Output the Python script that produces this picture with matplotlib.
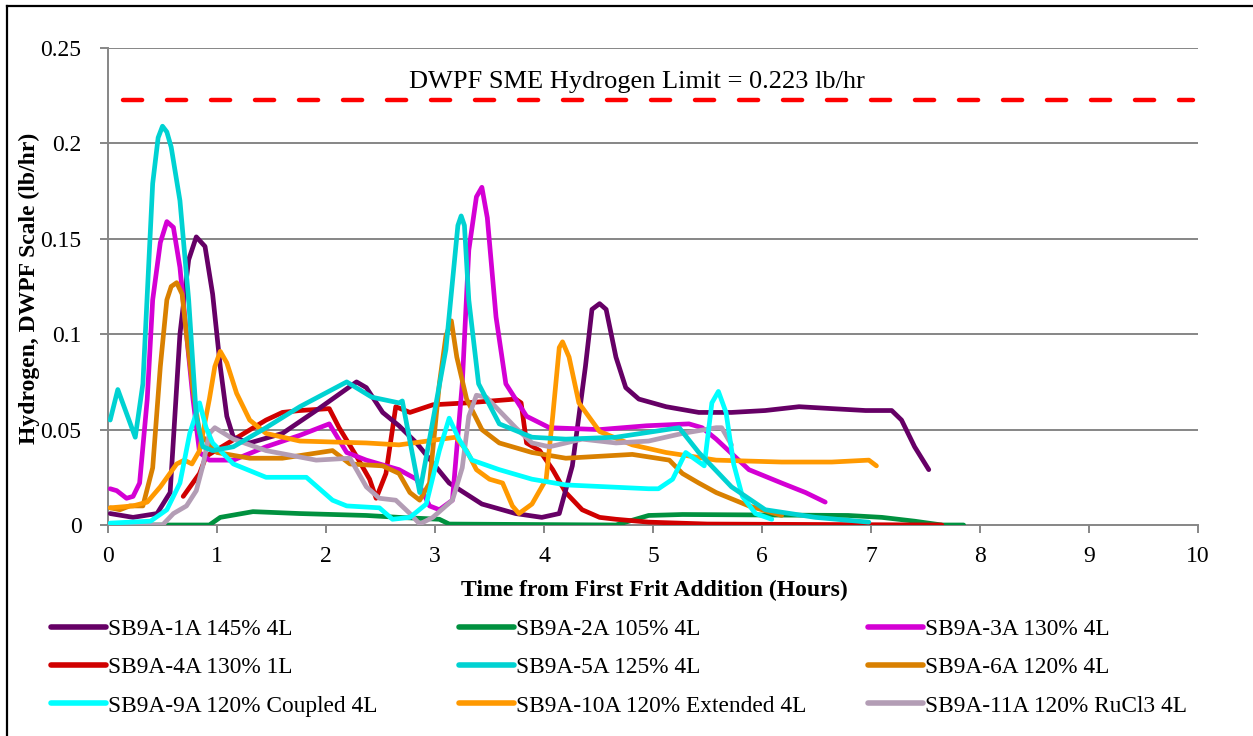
import matplotlib
matplotlib.use('Agg')
import matplotlib.pyplot as plt
from matplotlib.lines import Line2D

# ---- data (time in hours, hydrogen in lb/hr) ----
t_1a = [0.02, 0.23, 0.45, 0.57, 0.66, 0.74, 0.81, 0.89, 0.96, 1.03, 1.09, 1.15, 1.30, 1.60, 1.91, 2.28, 2.37, 2.52,
        2.67, 2.83, 3.13, 3.43, 3.74, 3.98, 4.14, 4.26, 4.38, 4.44, 4.51, 4.57, 4.66, 4.75, 4.87, 5.12, 5.42, 5.72,
        6.03, 6.34, 6.64, 6.95, 7.19, 7.28, 7.40, 7.53]
h_1a = [0.006, 0.004, 0.006, 0.017, 0.100, 0.139, 0.151, 0.146, 0.121, 0.083, 0.057, 0.046, 0.043, 0.048, 0.060,
        0.075, 0.072, 0.059, 0.052, 0.043, 0.022, 0.011, 0.006, 0.004, 0.006, 0.031, 0.083, 0.113, 0.116, 0.113,
        0.088, 0.072, 0.066, 0.062, 0.059, 0.059, 0.060, 0.062, 0.061, 0.060, 0.060, 0.055, 0.041, 0.029]

t_2a = [0.0, 0.93, 1.03, 1.33, 1.76, 2.37, 2.67, 3.04, 3.13, 4.66, 4.96, 5.27, 6.79, 7.10, 7.40, 7.65, 7.85]
h_2a = [0.0, 0.0, 0.004, 0.007, 0.006, 0.005, 0.004, 0.003, 0.0005, 0.0, 0.005, 0.0055, 0.005, 0.004, 0.002, 0.0, 0.0]

t_3a = [0.02, 0.08, 0.17, 0.23, 0.29, 0.36, 0.41, 0.48, 0.54, 0.60, 0.66, 0.72, 0.78, 0.84, 0.93, 1.15, 1.45, 1.76,
        2.03, 2.19, 2.37, 2.67, 2.83, 2.95, 3.04, 3.16, 3.25, 3.31, 3.38, 3.43, 3.48, 3.56, 3.65, 3.84, 4.05, 4.51,
        4.94, 5.33, 5.45, 5.58, 5.88, 6.18, 6.40, 6.58]
h_3a = [0.019, 0.018, 0.014, 0.015, 0.022, 0.066, 0.118, 0.148, 0.159, 0.156, 0.135, 0.100, 0.066, 0.038, 0.034,
        0.034, 0.041, 0.047, 0.053, 0.038, 0.034, 0.029, 0.024, 0.010, 0.008, 0.013, 0.074, 0.144, 0.172, 0.177,
        0.161, 0.109, 0.074, 0.057, 0.051, 0.050, 0.052, 0.053, 0.051, 0.045, 0.029, 0.022, 0.017, 0.012]

t_4a = [0.69, 0.84, 0.90, 1.45, 1.60, 1.76, 2.03, 2.12, 2.28, 2.40, 2.46, 2.55, 2.64, 2.77, 2.98, 3.29, 3.74, 3.79,
        3.84, 3.96, 4.08, 4.20, 4.35, 4.51, 4.66, 4.96, 5.50, 7.65]
h_4a = [0.015, 0.027, 0.036, 0.055, 0.059, 0.060, 0.061, 0.051, 0.036, 0.024, 0.014, 0.027, 0.062, 0.059, 0.063,
        0.064, 0.066, 0.064, 0.043, 0.039, 0.029, 0.017, 0.008, 0.004, 0.003, 0.0015, 0.0005, 0.0]

t_5a = [0.02, 0.09, 0.25, 0.32, 0.41, 0.46, 0.50, 0.54, 0.58, 0.66, 0.74, 0.81, 0.87, 0.96, 1.15, 1.45, 1.76, 2.19,
        2.42, 2.67, 2.70, 2.86, 3.10, 3.21, 3.24, 3.27, 3.31, 3.40, 3.59, 3.89, 4.20, 4.66, 5.24, 5.42, 5.72, 6.03,
        6.49, 6.98]
h_5a = [0.055, 0.071, 0.046, 0.074, 0.179, 0.203, 0.209, 0.206, 0.198, 0.170, 0.118, 0.057, 0.041, 0.039, 0.041,
        0.051, 0.062, 0.075, 0.067, 0.064, 0.065, 0.017, 0.092, 0.157, 0.162, 0.157, 0.118, 0.074, 0.053, 0.046,
        0.045, 0.046, 0.051, 0.038, 0.020, 0.008, 0.004, 0.0015]

t_6a = [0.02, 0.11, 0.20, 0.32, 0.41, 0.48, 0.54, 0.58, 0.63, 0.68, 0.72, 0.78, 0.84, 1.00, 1.30, 1.60, 2.06, 2.22,
        2.52, 2.67, 2.77, 2.86, 2.95, 3.04, 3.10, 3.15, 3.20, 3.29, 3.43, 3.59, 3.89, 4.20, 4.81, 5.15, 5.27, 5.42,
        5.58, 5.88, 6.18]
h_6a = [0.009, 0.008, 0.010, 0.010, 0.030, 0.083, 0.118, 0.125, 0.127, 0.121, 0.100, 0.071, 0.048, 0.038, 0.035,
        0.035, 0.039, 0.032, 0.031, 0.027, 0.017, 0.013, 0.022, 0.074, 0.099, 0.107, 0.088, 0.066, 0.050, 0.043,
        0.038, 0.035, 0.037, 0.034, 0.027, 0.022, 0.017, 0.010, 0.005]

t_9a = [0.02, 0.39, 0.54, 0.66, 0.75, 0.84, 0.90, 0.96, 1.15, 1.45, 1.82, 2.06, 2.19, 2.49, 2.61, 2.77, 2.92, 3.04,
        3.13, 3.22, 3.34, 3.59, 3.89, 4.20, 4.96, 5.05, 5.18, 5.30, 5.47, 5.54, 5.60, 5.67, 5.74, 5.82, 5.94, 6.09]
h_9a = [0.001, 0.002, 0.008, 0.022, 0.048, 0.064, 0.051, 0.043, 0.032, 0.025, 0.025, 0.013, 0.010, 0.009, 0.003,
        0.004, 0.011, 0.039, 0.056, 0.045, 0.034, 0.029, 0.024, 0.021, 0.019, 0.019, 0.024, 0.038, 0.031, 0.064,
        0.070, 0.059, 0.032, 0.015, 0.006, 0.003]

t_10a = [0.02, 0.23, 0.36, 0.48, 0.63, 0.70, 0.77, 0.84, 0.93, 0.98, 1.03, 1.09, 1.18, 1.30, 1.45, 1.76, 2.37, 2.67,
         3.19, 3.29, 3.38, 3.50, 3.62, 3.71, 3.77, 3.89, 4.02, 4.08, 4.14, 4.17, 4.23, 4.32, 4.51, 4.81, 5.12, 5.58,
         6.18, 6.64, 6.98, 7.05]
h_10a = [0.009, 0.010, 0.012, 0.020, 0.032, 0.034, 0.032, 0.039, 0.066, 0.083, 0.091, 0.085, 0.069, 0.055, 0.048,
         0.044, 0.043, 0.042, 0.046, 0.039, 0.029, 0.024, 0.022, 0.010, 0.006, 0.011, 0.024, 0.057, 0.093, 0.096,
         0.088, 0.064, 0.049, 0.042, 0.038, 0.034, 0.033, 0.033, 0.034, 0.031]

t_11a = [0.0, 0.50, 0.60, 0.72, 0.81, 0.87, 0.93, 0.98, 1.15, 1.45, 1.91, 2.22, 2.37, 2.49, 2.64, 2.77, 2.86, 2.98,
         3.16, 3.25, 3.31, 3.38, 3.47, 3.74, 3.89, 4.05, 4.35, 4.66, 4.96, 5.27, 5.58, 5.63, 5.72]
h_11a = [0.0, 0.0, 0.006, 0.010, 0.018, 0.031, 0.048, 0.051, 0.045, 0.039, 0.034, 0.035, 0.020, 0.014, 0.013,
         0.006, 0.0005, 0.004, 0.013, 0.030, 0.057, 0.068, 0.067, 0.051, 0.043, 0.041, 0.045, 0.043, 0.044, 0.048,
         0.051, 0.051, 0.042]

series = [
    ('SB9A-1A 145% 4L', t_1a, h_1a, '#660066'),
    ('SB9A-2A 105% 4L', t_2a, h_2a, '#00913F'),
    ('SB9A-3A 130% 4L', t_3a, h_3a, '#D400D4'),
    ('SB9A-4A 130% 1L', t_4a, h_4a, '#D00000'),
    ('SB9A-5A 125% 4L', t_5a, h_5a, '#00D2D2'),
    ('SB9A-6A 120% 4L', t_6a, h_6a, '#D98000'),
    ('SB9A-9A 120% Coupled 4L', t_9a, h_9a, '#00FFFF'),
    ('SB9A-10A 120% Extended 4L', t_10a, h_10a, '#FF9900'),
    ('SB9A-11A 120% RuCl3 4L', t_11a, h_11a, '#B39DB5'),
]

h2_limit = 0.223
x_ticks = list(range(0, 11))
y_ticks = [0, 0.05, 0.1, 0.15, 0.2, 0.25]
y_ticklabels = ['0', '0.05', '0.1', '0.15', '0.2', '0.25']

plt.rcParams['font.family'] = ['Liberation Serif', 'DejaVu Serif']

W, H = 1253, 736
fig = plt.figure(figsize=(W / 100, H / 100), dpi=100)
ax = fig.add_axes([108 / W, 1 - 525 / H, (1198 - 108) / W, (525 - 48) / H])

grid_c = '#868686'
for yv in y_ticks[1:]:
    ax.axhline(yv, color=grid_c, lw=1.4, zorder=1)

draw_order = [1, 3, 0, 2, 5, 7, 8, 6, 4]
lines = {}
for i in range(len(series)):
    name, t, h, c = series[i]
    ln, = ax.plot(t, h, color=c, lw=3.4, solid_capstyle='round', solid_joinstyle='round',
                  zorder=3 + draw_order.index(i) * 0.01, label=name)
    lines[i] = ln

ax.axhline(h2_limit, xmin=0.014, xmax=0.995, color='#FF0000', lw=3.2, dash_capstyle='round',
           linestyle=(0, (4.3, 5.6)), zorder=4)
ax.text(4.85, 0.2262, 'DWPF SME Hydrogen Limit = 0.223 lb/hr', ha='center', va='bottom', fontsize=19, zorder=5)

ax.set_xlim(0, 10)
ax.set_ylim(0, 0.25)
ax.set_xticks(x_ticks)
ax.set_xticklabels([str(v) for v in x_ticks])
ax.set_yticks(y_ticks)
ax.set_yticklabels(y_ticklabels)
ax.tick_params(axis='both', direction='out', length=6, width=1.4, color=grid_c, labelsize=17)
ax.tick_params(axis='y', pad=13)
ax.tick_params(axis='x', pad=9)
for s in ['top', 'right']:
    ax.spines[s].set_visible(False)
for s in ['left', 'bottom']:
    ax.spines[s].set_color(grid_c)
    ax.spines[s].set_linewidth(1.4)

fig.text(654 / W, 1 - 590 / H, 'Time from First Frit Addition (Hours)', ha='center', va='center',
         fontsize=17, fontweight='bold')
fig.text(29 / W, 1 - 288 / H, 'Hydrogen, DWPF Scale (lb/hr)', ha='center', va='center',
         rotation=90, fontsize=17, fontweight='bold')

# legend: three columns placed like the original
col_x = [51, 459, 868]
for col in range(3):
    idx = [col, col + 3, col + 6]
    leg = fig.legend([lines[i] for i in idx], [series[i][0] for i in idx],
                     loc='upper left', bbox_to_anchor=(col_x[col] / W, 1 - 619 / H),
                     frameon=False, fontsize=16.8, handlelength=2.35, handletextpad=0.1,
                     labelspacing=0.72, borderpad=0, borderaxespad=0)
    for lh in leg.get_lines():
        lh.set_linewidth(4)

# outer frame (left and top edges visible)
fig.add_artist(Line2D([7 / W, 7 / W], [0, 1 - 6 / H], color='black', lw=1.6, transform=fig.transFigure))
fig.add_artist(Line2D([7 / W, 1], [1 - 6 / H, 1 - 6 / H], color='black', lw=1.6, transform=fig.transFigure))

plt.savefig('out.png', dpi=100)
